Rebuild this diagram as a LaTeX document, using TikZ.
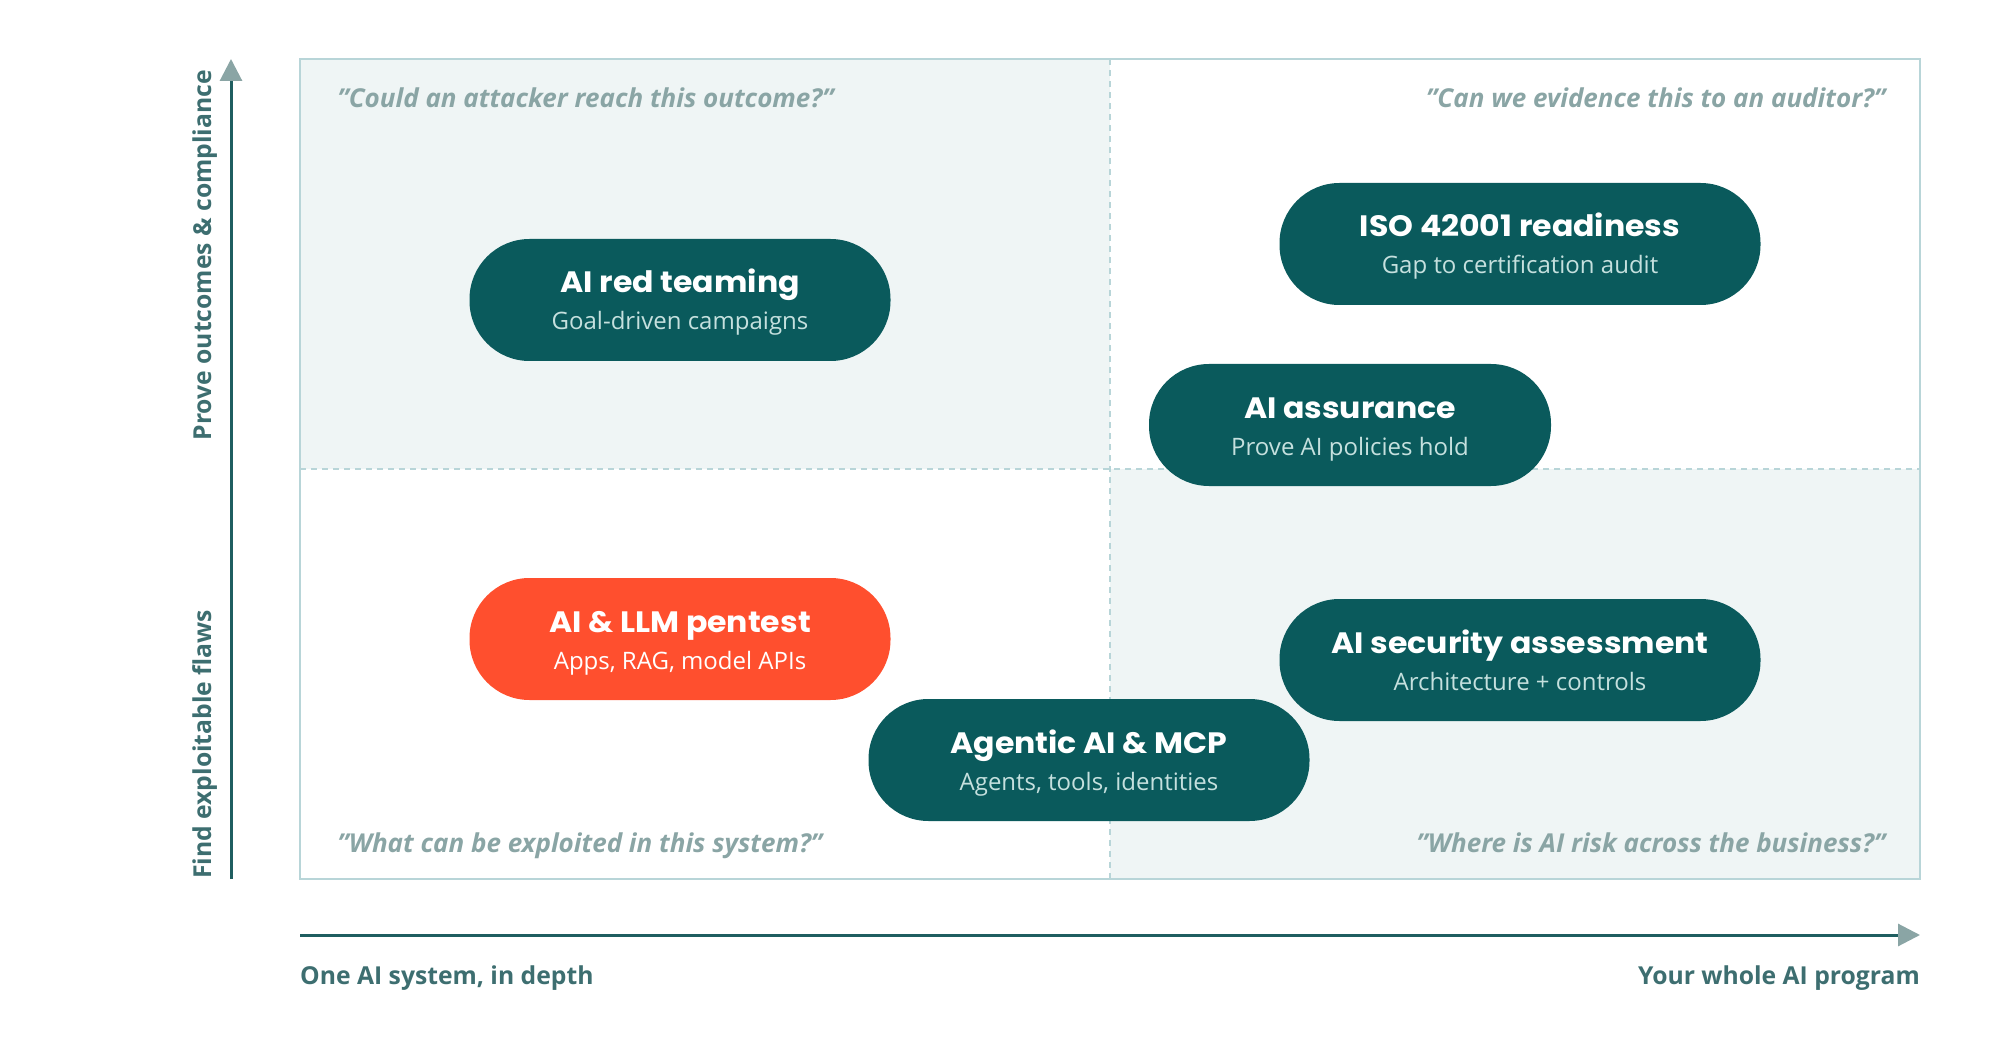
\documentclass[tikz,border=0pt]{standalone}
\usepackage{fontspec}
\setmainfont{Open Sans}
\newfontfamily\headfont{Poppins}[FakeStretch=1.07]
\usetikzlibrary{positioning,arrows.meta}

\definecolor{pilldark}{HTML}{0A5A5C}
\definecolor{pillhot}{HTML}{FF4F2E}
\definecolor{subtext}{HTML}{C5E0DE}
\definecolor{quadfill}{HTML}{EFF5F5}
\definecolor{quadline}{HTML}{B8D5D8}
\definecolor{quotetext}{HTML}{8AA5A5}
\definecolor{axisline}{HTML}{1F5E60}
\definecolor{axistext}{HTML}{3D6E70}
\definecolor{tipgray}{HTML}{8AA5A5}

\begin{document}
\begin{tikzpicture}[x=1pt, y=-1pt,
   pill/.style={fill=pilldark, rounded corners=60pt, minimum height=122pt, inner sep=0pt},
   title/.style={anchor=base, text=white, font=\headfont\bfseries\fontsize{29.5}{32}\selectfont, yshift=7pt},
   sub/.style={anchor=base, text=subtext, font=\fontsize{24}{28}\selectfont, yshift=-30pt},
   quote/.style={text=quotetext, font=\bfseries\itshape\fontsize{26}{30}\selectfont, anchor=base},
   axlabel/.style={text=axistext, font=\bfseries\fontsize{24.7}{28}\selectfont, anchor=base, inner sep=0pt}]
   \useasboundingbox (0,0) rectangle (2000,1040);

   % Quadrants
   \fill[quadfill] (300,59) rectangle (1110,469);
   \fill[quadfill] (1110,469) rectangle (1920,879);
   \draw[quadline, line width=1.5pt] (300,59) rectangle (1920,879);
   \draw[quadline, line width=1.3pt, dashed, dash pattern=on 6pt off 5pt] (1110,59) -- (1110,879);
   \draw[quadline, line width=1.3pt, dashed, dash pattern=on 6pt off 5pt] (300,469) -- (1920,469);

   % Questions
   \node[quote, anchor=base west] (qtl) at (334,108) {\symbol{34}Could an attacker reach this outcome?\symbol{34}};
   \node[quote, anchor=base east] (qtr) at (1889,108) {\symbol{34}Can we evidence this to an auditor?\symbol{34}};
   \node[quote, anchor=base west] (qbl) at (334,852) {\symbol{34}What can be exploited in this system?\symbol{34}};
   \node[quote, anchor=base east] (qbr) at (1889,852) {\symbol{34}Where is AI risk across the business?\symbol{34}};

   % Axes
   \coordinate (yfoot) at (231,879);
   \coordinate (ytop) at (231,59);
   \coordinate (xfoot) at (300,935);
   \coordinate (xtip) at (1920,935);
   \draw[axisline, line width=3pt, -{Triangle[length=22pt, width=22pt, color=tipgray]}] (yfoot) -- (ytop);
   \draw[axisline, line width=3pt, -{Triangle[length=22pt, width=22pt, color=tipgray]}] (xfoot) -- (xtip);
   \node[axlabel, anchor=base west] (xlow) at (300,984) {One AI system, in depth};
   \node[axlabel, anchor=base east] (xhigh) at (1920,984) {Your whole AI program};
   \node[axlabel, rotate=90, anchor=base west] (ylow) at (211,879) {Find exploitable flaws};
   \node[axlabel, rotate=90, anchor=base east] (yhigh) at (211,70) {Prove outcomes \& compliance};

   % Services
   \node[pill, minimum width=421pt] (redteam) at (680,300) {};
   \node[title] at (redteam) {AI red teaming};
   \node[sub] at (redteam) {Goal-driven campaigns};

   \node[pill, minimum width=481pt] (iso) at (1520,244) {};
   \node[title] at (iso) {ISO 42001 readiness};
   \node[sub] at (iso) {Gap to certification audit};

   \node[pill, minimum width=402pt] (assure) at (1350,425) {};
   \node[title] at (assure) {AI assurance};
   \node[sub] at (assure) {Prove AI policies hold};

   \node[pill, fill=pillhot, minimum width=421pt] (pentest) at (680,639) {};
   \node[title] at (pentest) {AI \& LLM pentest};
   \node[sub, text=white] at (pentest) {Apps, RAG, model APIs};

   \node[pill, minimum width=481pt] (secassess) at (1520,660) {};
   \node[title] at (secassess) {AI security assessment};
   \node[sub] at (secassess) {Architecture + controls};

   \node[pill, minimum width=441pt] (agentic) at (1089,760) {};
   \node[title] at (agentic) {Agentic AI \& MCP};
   \node[sub] at (agentic) {Agents, tools, identities};
\end{tikzpicture}
\end{document}
